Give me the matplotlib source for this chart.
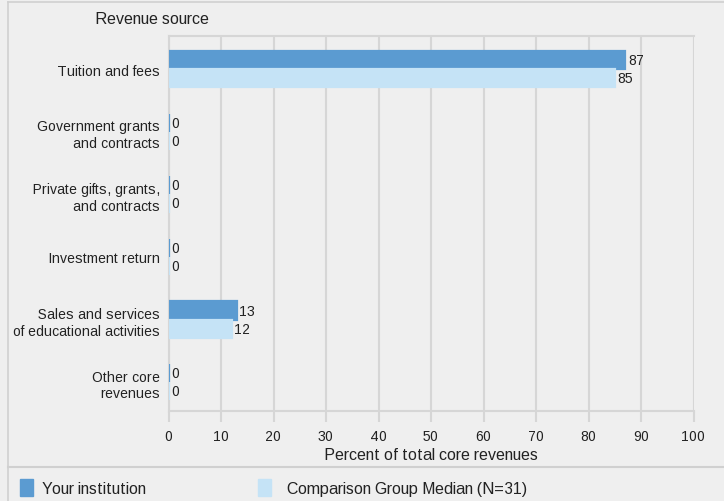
import matplotlib.pyplot as plt
from matplotlib.patches import Rectangle
from matplotlib.lines import Line2D
import numpy as np

plt.rcParams['font.family'] = ['Liberation Sans', 'DejaVu Sans']
plt.rcParams['text.hinting_factor'] = 1

# Dados do gráfico
categories = ["Tuition and fees", "Government grants\nand contracts",
              "Private gifts, grants,\nand contracts", "Investment return",
              "Sales and services\nof educational activities",
              "Other core\nrevenues"]
your_institution = [87, 0, 0, 0, 13, 0]
comparison_median = [85, 0, 0, 0, 12, 0]
series_labels = ["Your institution", "Comparison Group Median (N=31)"]
x_ticks = [0, 10, 20, 30, 40, 50, 60, 70, 80, 90, 100]

bg = '#efefef'
grid_color = '#d6d6d6'
dark_blue = '#5b9bd1'
light_blue = '#c5e3f6'
text_color = '#222222'

fig = plt.figure(figsize=(7.24, 5.02), dpi=100, facecolor=bg)
ax = fig.add_axes([168.5/724, 1-412/502, 525/724, 375/502])
ax.set_facecolor(bg)

y = np.arange(len(categories))
h = 0.29
ax.barh(y - h/2, your_institution, height=h, color=dark_blue,
        edgecolor=dark_blue, linewidth=1.6, zorder=3)
ax.barh(y + h/2, comparison_median, height=h, color=light_blue,
        edgecolor=light_blue, linewidth=1.6, zorder=3)

for i in range(len(categories)):
    ax.text(your_institution[i] + 0.5, y[i] - h/2, str(your_institution[i]),
            va='center', ha='left', fontsize=10, color=text_color)
    ax.text(comparison_median[i] + 0.5, y[i] + h/2, str(comparison_median[i]),
            va='center', ha='left', fontsize=10, color=text_color)

ax.set_xlim(0, 100)
ax.set_ylim(5.46, -0.53)
ax.set_xticks(x_ticks)
ax.set_yticks(y)
ax.set_yticklabels(categories, fontsize=10.3, color=text_color, linespacing=1.25)
ax.tick_params(axis='y', length=0, pad=6)
ax.tick_params(axis='x', length=8, color=grid_color, width=1.5,
               labelsize=10, labelcolor=text_color, pad=5)
ax.xaxis.grid(True, color=grid_color, linewidth=1.5, zorder=0)
for s in ax.spines.values():
    s.set_color(grid_color)
    s.set_linewidth(1.5)
ax.spines['right'].set_visible(False)
ax.set_xlabel("Percent of total core revenues", fontsize=11.3,
              color=text_color, labelpad=3)

fig.text(95/724, 1-19/502, "Revenue source", fontsize=11.3,
         color=text_color, va='center', ha='left')

# Bordas e legenda
fig.add_artist(Line2D([8/724, 8/724], [0, 1-3/502], transform=fig.transFigure,
                      color='#d0d0d0', linewidth=1.2))
fig.add_artist(Line2D([8/724, 1], [1-3/502, 1-3/502], transform=fig.transFigure,
                      color='#d0d0d0', linewidth=1.2))
fig.add_artist(Line2D([8/724, 1], [1-468/502, 1-468/502], transform=fig.transFigure,
                      color='#d0d0d0', linewidth=1.5))

fig.add_artist(Rectangle((20/724, 1-497/502), 13/724, 17/502,
                         transform=fig.transFigure, color=dark_blue))
fig.text(42/724, 1-490/502, series_labels[0], fontsize=11.3,
         color=text_color, va='center', ha='left')
fig.add_artist(Rectangle((258/724, 1-497/502), 13/724, 17/502,
                         transform=fig.transFigure, color=light_blue))
fig.text(287/724, 1-490/502, series_labels[1], fontsize=11.3,
         color=text_color, va='center', ha='left')

fig.savefig('out.png', dpi=100, facecolor=bg)
